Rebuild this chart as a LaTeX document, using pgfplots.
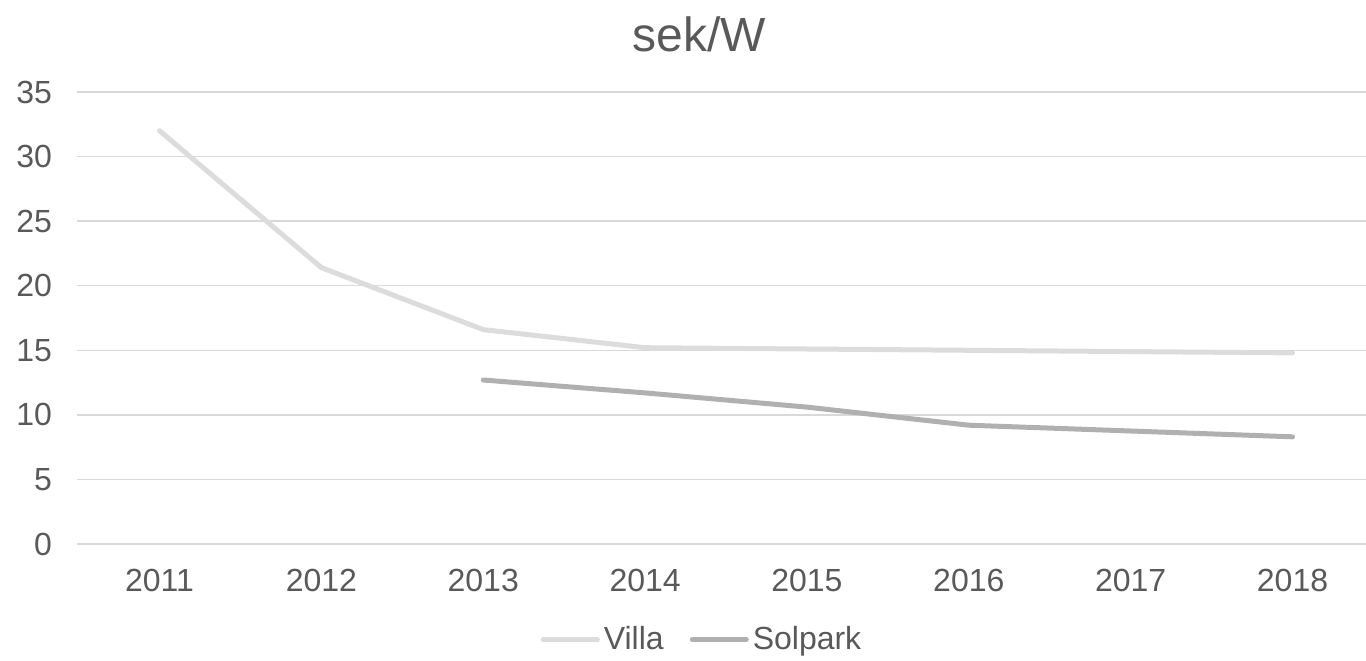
\documentclass[border=0pt]{standalone}
\usepackage{fontspec}
\setmainfont{Liberation Sans}
\usepackage{pgfplots}
\pgfplotsset{compat=1.18}
\definecolor{txt}{HTML}{595959}
\definecolor{gridc}{HTML}{D9D9D9}
\definecolor{villa}{HTML}{DCDCDC}
\definecolor{solpark}{HTML}{B0B0B0}
\begin{document}
\begin{tikzpicture}
\path[use as bounding box] (0,0) rectangle (683pt,330pt);
\begin{axis}[
  at={(38.5pt,58pt)}, anchor=south west,
  scale only axis, width=644.5pt, height=226pt,
  xmin=-0.51, xmax=7.454, ymin=0, ymax=35,
  xtick={0,...,7},
  xticklabels={2011,2012,2013,2014,2015,2016,2017,2018},
  ytick={0,5,...,35},
  axis line style={draw=none},
  major tick length=0pt,
  xmajorgrids=false, ymajorgrids=true,
  major grid style={draw=gridc, line width=0.75pt},
  tick label style={font=\fontsize{16}{19}\selectfont, text=txt},
  yticklabel style={xshift=-9pt},
  xticklabel style={yshift=-9pt},
  /pgf/number format/assume math mode=true,
  title={sek/W},
  title style={at={(0.483,1.10)}, anchor=center, font=\fontsize{24}{28}\selectfont, text=txt},
  legend columns=2,
  legend style={at={(0.4857,-0.212)}, anchor=center, draw=none, fill=none,
    font=\fontsize{16}{19}\selectfont, text=txt,
    /tikz/every even column/.append style={column sep=11pt}},
  legend image code/.code={\draw[#1, line width=2.5pt] (0pt,0pt) -- (27pt,0pt);},
]
\addplot[villa, line width=2.5pt, line cap=round, line join=round] coordinates {
  (0,32.0) (1,21.4) (2,16.6) (3,15.2) (4,15.1) (5,15.0) (6,14.9) (7,14.8)};
\addlegendentry{Villa}
\addplot[solpark, line width=2.5pt, line cap=round, line join=round] coordinates {
  (2,12.7) (3,11.7) (4,10.6) (5,9.2) (6,8.75) (7,8.3)};
\addlegendentry{Solpark}
\end{axis}
\end{tikzpicture}
\end{document}
